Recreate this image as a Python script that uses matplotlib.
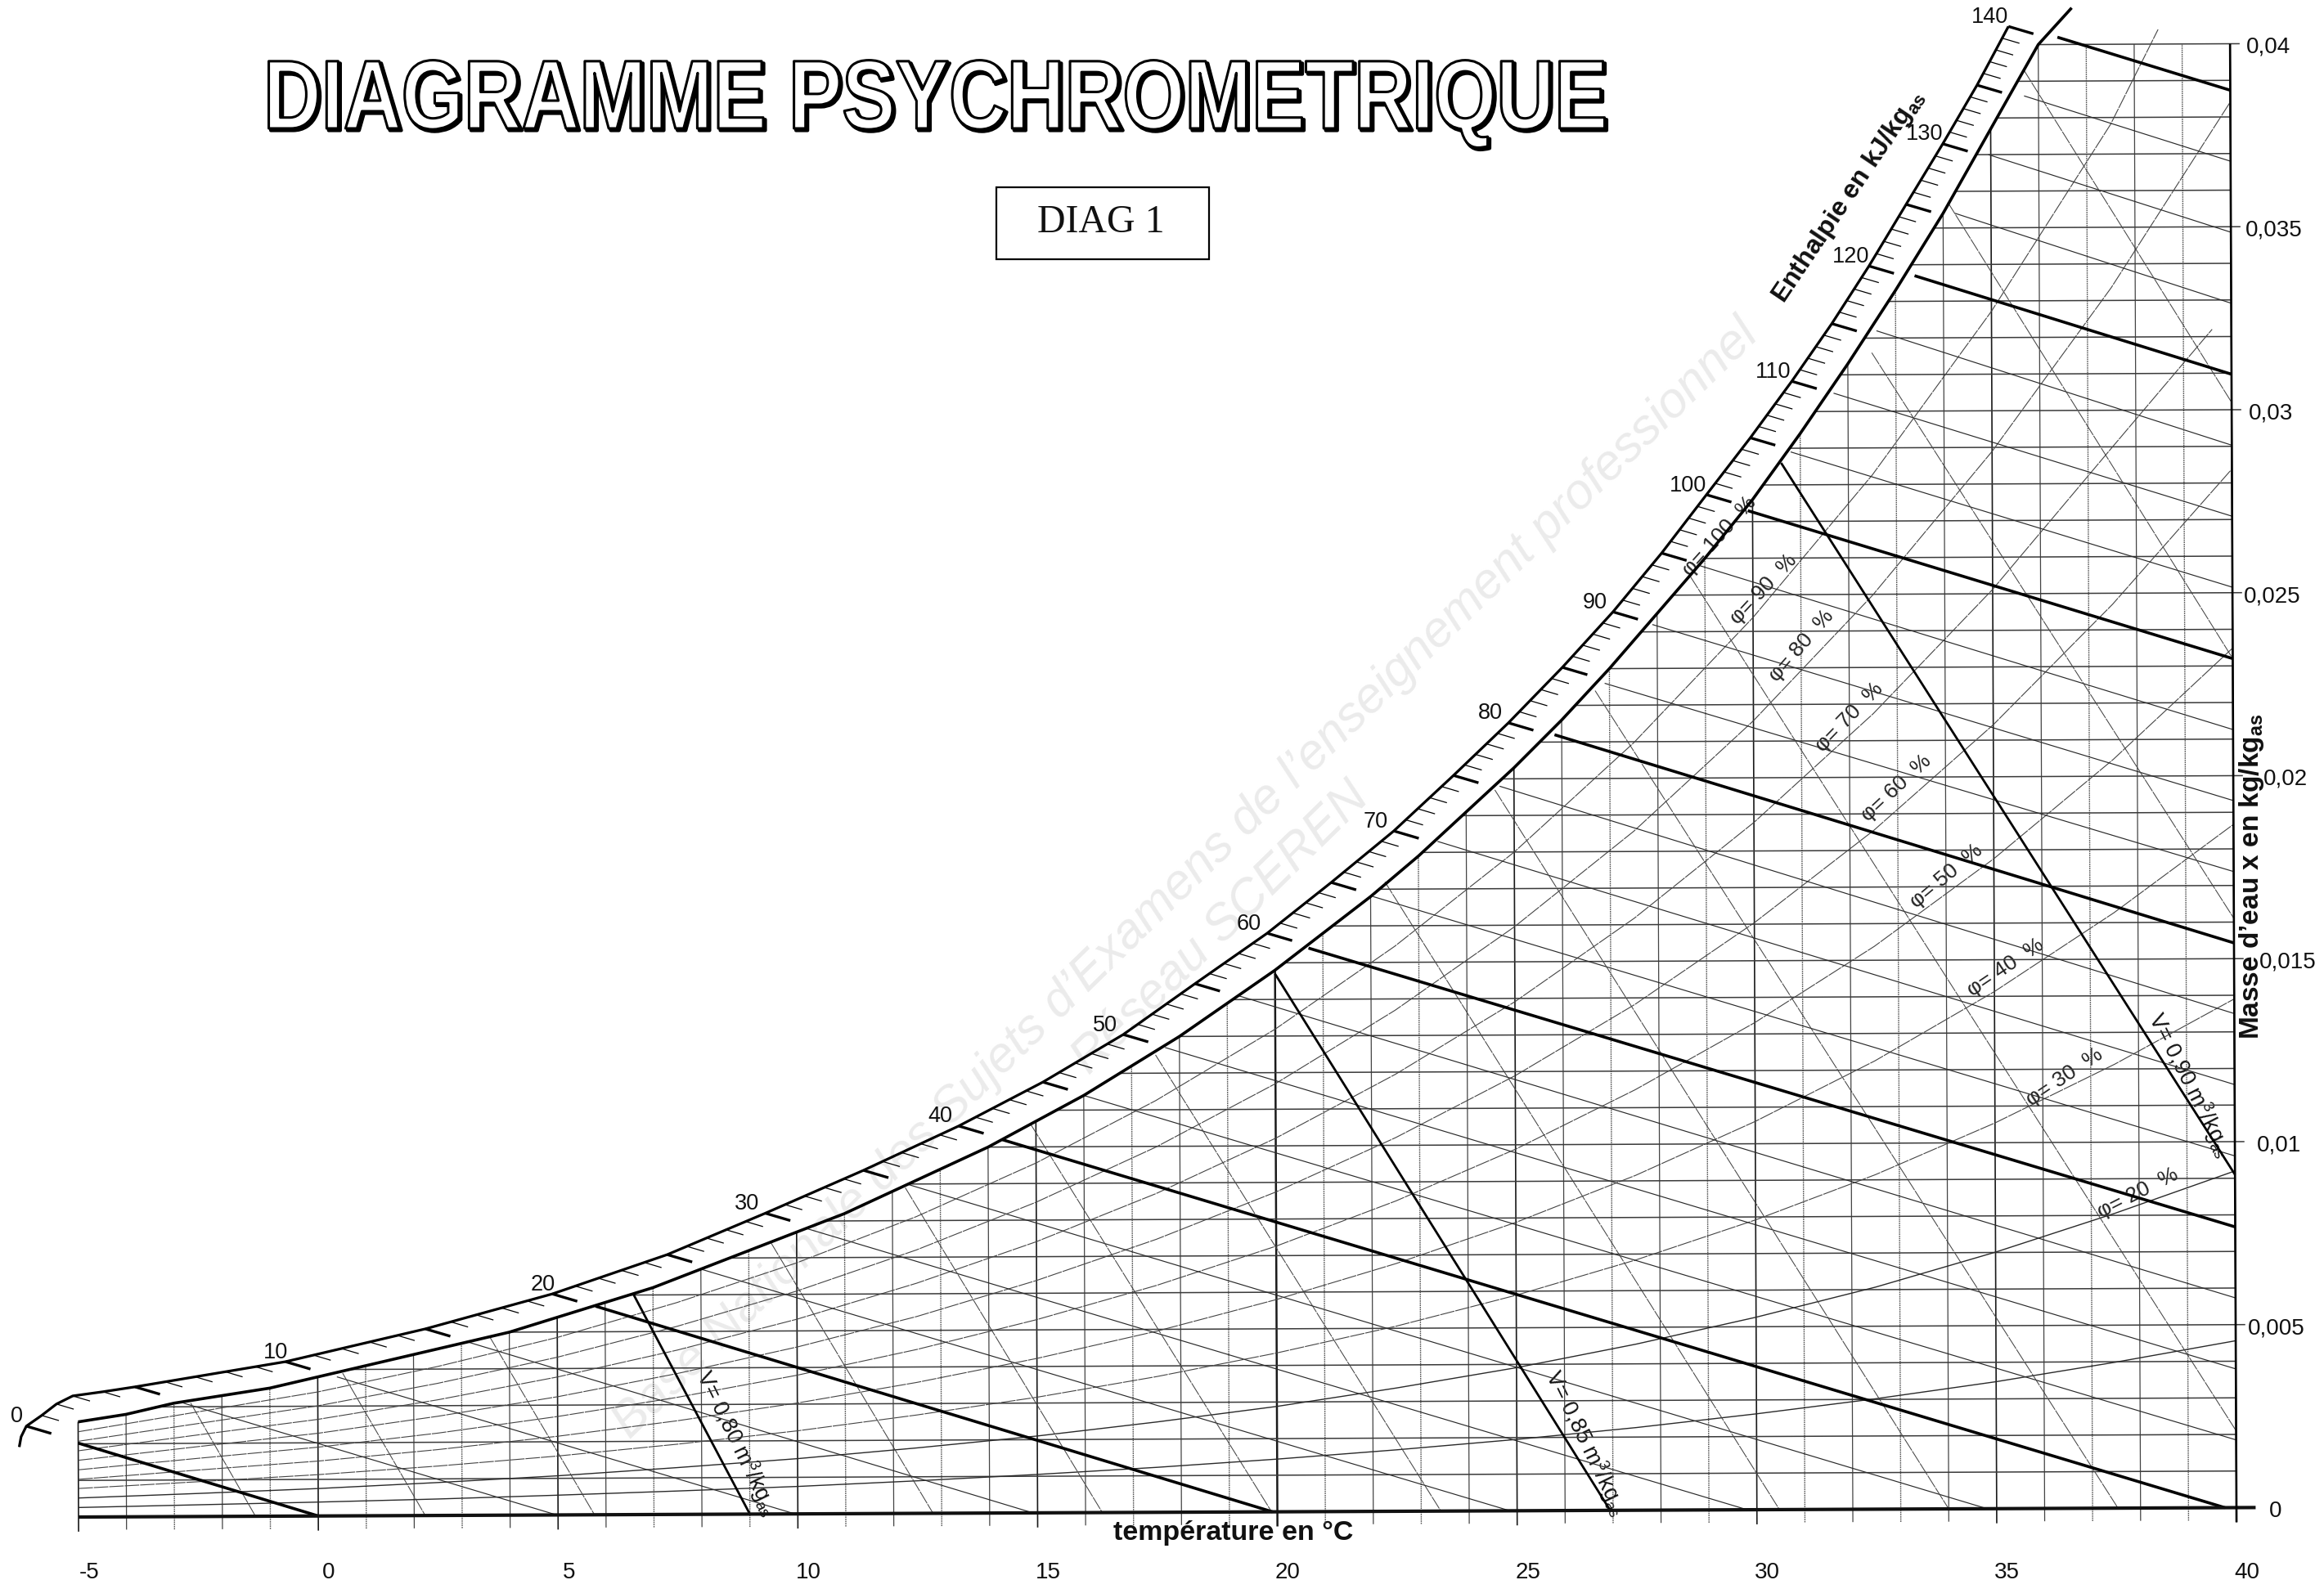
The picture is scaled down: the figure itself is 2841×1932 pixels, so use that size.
import numpy as np
import matplotlib
matplotlib.use("Agg")
import matplotlib.pyplot as plt
import matplotlib.patheffects as pe
from matplotlib.colors import to_rgba
from matplotlib.transforms import Affine2D
from matplotlib.patches import Rectangle

plt.rcParams['font.family'] = ['Liberation Sans', 'DejaVu Sans']
plt.rcParams['mathtext.fontset'] = 'custom'
plt.rcParams['mathtext.rm'] = 'Liberation Sans'
plt.rcParams['mathtext.it'] = 'Liberation Sans:italic'
plt.rcParams['mathtext.bf'] = 'Liberation Sans:bold'
plt.rcParams['mathtext.default'] = 'regular'

# saturation curve, temperature in C, x in kg/kg
sat_temp = [-5, -4, -3, -2, -1, 0, 1, 2, 3, 4, 5, 6, 7, 8, 9, 10, 11, 12, 13, 14, 15, 16, 17, 18, 19, 20,
            21, 22, 23, 24, 25, 26, 27, 28, 29, 30, 31, 32, 33, 34, 35, 36, 36.7]
sat_x = [.0026, .0028, .0031, .0033, .0035, .0038, .0041, .0044, .0047, .0050, .0054, .0058, .0062, .0067,
         .0072, .0077, .0082, .0088, .0094, .0100, .0107, .0114, .0122, .0130, .0139, .0148, .0158, .0168,
         .0179, .0191, .0203, .0216, .0230, .0245, .0260, .0276, .0294, .0313, .0333, .0354, .0377, .0400, .0410]

# relative humidity curves, x in g/kg
rh_temp = [-5, -2.5, 0, 2.5, 5, 7.5, 10, 12.5, 15, 17.5, 20, 22.5, 25, 27.5, 30, 32.5, 35, 37.5, 40]
rh_10 = [.26, .32, .38, .45, .54, .64, .75, .89, 1.05, 1.23, 1.44, 1.68, 1.95, 2.26, 2.62, 3.02, 3.47, 3.99, 4.56]
rh_20 = [.52, .63, .75, .90, 1.07, 1.28, 1.51, 1.79, 2.10, 2.47, 2.88, 3.37, 3.91, 4.54, 5.26, 6.07, 7.01, 8.06, 9.20]
rh_30 = [.78, .95, 1.13, 1.35, 1.61, 1.92, 2.27, 2.69, 3.16, 3.71, 4.34, 5.06, 5.89, 6.84, 7.92, 9.14, 10.54, 12.13, 13.90]
rh_40 = [1.03, 1.27, 1.50, 1.80, 2.15, 2.56, 3.03, 3.58, 4.22, 4.95, 5.80, 6.77, 7.88, 9.15, 10.61, 12.25, 14.13, 16.27, 18.67]
rh_50 = [1.29, 1.59, 1.88, 2.25, 2.69, 3.20, 3.79, 4.48, 5.28, 6.20, 7.26, 8.48, 9.88, 11.49, 13.31, 15.38, 17.76, 20.46, 23.49]
rh_60 = [1.55, 1.91, 2.26, 2.71, 3.23, 3.85, 4.56, 5.38, 6.35, 7.46, 8.74, 10.21, 11.89, 13.82, 16.04, 18.55, 21.42, 24.70, 28.38]
rh_70 = [1.81, 2.23, 2.64, 3.16, 3.77, 4.49, 5.32, 6.29, 7.41, 8.71, 10.21, 11.94, 13.91, 16.18, 18.78, 21.74, 25.12, 28.98]
rh_80 = [2.07, 2.54, 3.01, 3.61, 4.31, 5.14, 6.09, 7.20, 8.49, 9.98, 11.70, 13.69, 15.96, 18.56, 21.56, 24.98, 28.89, 33.35, 38.41]
rh_90 = [2.33, 2.86, 3.39, 4.07, 4.85, 5.79, 6.86, 8.11, 9.56, 11.25, 13.19, 15.44, 18.00, 20.97, 24.38, 28.26, 32.72, 37.81]
rh_curves = [rh_10, rh_20, rh_30, rh_40, rh_50, rh_60, rh_70, rh_80, rh_90]
# the two curves that stop before the next node
rh_tail = {6: (39.6, 32.2), 8: (38.5, 40.4)}

# enthalpy lines: start on the saturation curve, end on the bottom or the right side
h_vals = list(range(0, 145, 5))
h_start_t = [-5, -2.8, .4, 3.1, 5.8, 8, 10.2, 12.3, 14.3, 16, 17.7, 19.25, 20.7, 22.05, 23.4, 24.7, 25.85, 26.9, 27.9,
             28.9, 29.9, 30.8, 31.7, 32.6, 33.4, 34.25, 34.95, 35.7, 36.4]
h_start_x = [.00202, .0031, .0038, .00475, .0057, .0067, .0078, .0090, .0102, .0114, .0127, .0141, .0154, .0168, .0183,
             .0198, .0212, .0226, .0242, .0258, .0273, .0289, .0305, .0322, .0337, .0354, .0370, .0386, .0402]
h_end_t = [0, 4.97, 9.94, 14.9, 19.9, 24.85, 29.8, 34.8, 39.76, 40, 40, 40, 40, 40, 40, 40, 40, 40, 40,
           40, 40, 40, 40, 40, 40, 40, 40, 40, 40]
h_end_x = [0, 0, 0, 0, 0, 0, 0, 0, 0, .00185, .00379, .00573, .00767, .00961, .01156, .0135, .01543, .01738, .01932,
           .02126, .0232, .02515, .02709, .02903, .03097, .03291, .03485, .03679, .03873]

# outer edge of the enthalpy scale
scale_h = [-1, -.5, 0, 1, 2, 3, 4, 5, 10, 15, 20, 25, 30, 35, 40, 45, 50, 55, 60, 65, 70, 75, 80, 85, 90, 95, 100,
           105, 110, 115, 120, 125, 130, 135, 140]
scale_t = [-6.23, -6.19, -6.08, -5.76, -5.45, -5.11, -4.48, -3.81, -.67, 2.25, 4.9, 7.3, 9.35, 11.4, 13.39, 15.15, 16.83, 18.33,
           19.84, 21.18, 22.49, 23.74, 24.89, 26.02, 27.08, 28.10, 29.04, 29.96, 30.83, 31.67, 32.45, 33.23, 34.0, 34.72, 35.38]
scale_x = [.00192, .00220, .00249, .00278, .00309, .00331, .00342, .00355, .00422, .0051, .00604, .0071, .00822, .00938, .01058,
           .01177, .01306, .01444, .01581, .01719, .01859, .02010, .02153, .02304, .02455, .02615, .02774, .02929, .03083,
           .0324, .03397, .03565, .0373, .0389, .0405]

# specific volume lines
v_vals = [.77, .78, .79, .80, .81, .82, .83, .84, .85, .86, .87, .88, .89, .90, .91, .92, .93]
v_start_t = [-2.65, .52, 3.58, 6.6, 9.47, 12.27, 14.9, 17.5, 20.0, 22.3, 24.6, 26.7, 28.7, 30.6, 32.5, 34.1, 35.7]
v_start_x = [.0031, .0039, .0049, .0060, .0074, .0089, .0106, .0125, .0147, .0172, .0197, .0224, .0255, .0286, .0316, .0357, .0393]
v_end_t = [-1.31, 2.23, 5.76, 9.0, 12.82, 16.35, 19.88, 23.41, 26.94, 30.47, 34.0, 37.53, 40, 40, 40, 40, 40]
v_end_x = [0, 0, 0, 0, 0, 0, 0, 0, 0, 0, 0, 0, .0021, .0091, .0161, .0232, .0302]

temp_ticks = [-5, 0, 5, 10, 15, 20, 25, 30, 35, 40]
x_ticks = [0, .005, .01, .015, .02, .025, .03, .035, .04]
x_tick_labels = ['0', '0,005', '0,01', '0,015', '0,02', '0,025', '0,03', '0,035', '0,04']
x_label_left = [2774, 2748, 2759, 2762, 2767, 2743, 2749, 2745, 2746]
rh_labels = ['20', '30', '40', '50', '60', '70', '80', '90', '100']
rh_label_px = [2613, 2524, 2452, 2379, 2318, 2261, 2202, 2156, 2102]
rh_label_py = [1459, 1317, 1183, 1071, 964, 877, 790, 721, 656]
rh_label_rot = [27, 34, 34, 40, 43, 46, 49, 47, 48]

W, H = 2841, 1933
fig = plt.figure(figsize=(W / 100, H / 100), dpi=100, facecolor='white')

# page axes in pixels of the sheet, for everything that is not a value
page = fig.add_axes([0, 0, 1, 1])
page.set_xlim(0, W)
page.set_ylim(H, 0)
page.axis('off')

ax = fig.add_axes([96 / W, 77 / H, 2638 / W, 1790 / H])
ax.set_xlim(-5, 40)
ax.set_ylim(0, .04)
ax.axis('off')
ax.patch.set_alpha(0)

# the scan is slightly turned
tr = ax.transData + Affine2D().rotate_deg_around(96, 77, 0.25)


def line(xs, ys, lw=1.0, color='#1a1a1a', ls='-', z=2):
    ax.plot(xs, ys, color=color, lw=lw, ls=ls, transform=tr, clip_on=False, zorder=z, solid_capstyle='butt')


class Squeeze(pe.AbstractPathEffect):
    def __init__(self, sx, offset=(0, 0), lw=3.0, fill='white'):
        self.sx = sx
        self.off = offset
        self.lw = lw
        self.fill = to_rgba(fill)

    def draw_path(self, renderer, gc, tpath, affine, rgbFace=None):
        gc0 = renderer.new_gc()
        gc0.copy_properties(gc)
        gc0.set_linewidth(self.lw)
        gc0.set_foreground('black')
        t = Affine2D().scale(self.sx, 1) + affine + Affine2D().translate(*self.off)
        renderer.draw_path(gc0, tpath, t, self.fill)
        gc0.restore()


# grid
for t in range(-5, 41):
    top = min(np.interp(t, sat_temp, sat_x), .04)
    if t % 5 == 0:
        line([t, t], [-.0004, top], lw=1.2 if t != 20 else 1.8, color='#1a1a1a')
    elif t % 2 == 0:
        line([t, t], [-.00035, top], lw=0.9, color='#444444')
    else:
        line([t, t], [-.00035, top], lw=1.0, color='#555555', ls=(0, (1.2, 0.7)))

for k in range(1, 41):
    v = k / 1000
    tl = np.interp(v, sat_x, sat_temp)
    end = 40.2 if k % 5 == 0 else 40
    line([tl, end], [v, v], lw=1.1, color='#3a3a3a')

# humidity curves
for i, vals in enumerate(rh_curves):
    ts = rh_temp[:len(vals)]
    xs = [a / 1000 for a in vals]
    if i in rh_tail:
        ts = ts + [rh_tail[i][0]]
        xs = xs + [rh_tail[i][1] / 1000]
    if i < 2:
        line(ts, xs, lw=1.0, color='#2a2a2a')
    else:
        line(ts, xs, lw=0.8, color='#444444', ls=(0, (16, 1)))

# enthalpy lines
for i, h in enumerate(h_vals):
    if h % 20 == 0:
        line([h_start_t[i], h_end_t[i]], [h_start_x[i], h_end_x[i]], lw=2.6, color='black', z=3)
    else:
        line([h_start_t[i], h_end_t[i]], [h_start_x[i], h_end_x[i]], lw=0.85, color='#2a2a2a')

# volume lines
for i, v in enumerate(v_vals):
    if round(v * 100) % 5 == 0:
        line([v_start_t[i], v_end_t[i]], [v_start_x[i], v_end_x[i]], lw=2.0, color='black', z=3)
    else:
        line([v_start_t[i], v_end_t[i]], [v_start_x[i], v_end_x[i]], lw=0.75, color='#444444', ls=(0, (16, 1)))

# outline
line(sat_temp, sat_x, lw=2.6, color='black', z=4)
line(scale_t, scale_x, lw=2.3, color='black', z=4)
line([-5, 40.4], [0, 0], lw=3.0, color='#111111', z=4)
line([40, 40], [-.0004, .04], lw=1.9, color='black', z=4)

# enthalpy scale ticks
for h in range(0, 141):
    tt = np.interp(h, scale_h, scale_t)
    xx = np.interp(h, scale_h, scale_x)
    dt = .52 if h % 5 == 0 else .36
    line([tt, tt + dt], [xx, xx - .000393 * dt], lw=2.4 if h % 5 == 0 else 0.9, color='black', z=4)
    if h % 10 == 0:
        back = .2 if h <= 20 else .38
        ax.text(tt - back, xx + .00028, str(h), transform=tr, ha='center', va='center', fontsize=19.5, color='#111111', clip_on=False)

# tick labels
for t in temp_ticks:
    page.text(96 + (t + 5) * 58.62 + 13, 1923, str(t), ha='center', va='center', fontsize=20, color='#111111')
for v, s, left in zip(x_ticks, x_tick_labels, x_label_left):
    page.text(left, 1850 - v * 44750 - 2, s, ha='left', va='center', fontsize=20, color='#111111')

page.text(1508, 1875, 'température en °C', ha='center', va='center', fontsize=24.5, fontweight='bold', color='#111111', zorder=6)
page.text(2260, 240, r'Enthalpie en kJ/kg$_{\mathbf{as}}$', ha='center', va='center', fontsize=23, fontweight='bold', rotation=56, color='#111111', zorder=6)
page.text(2753, 1072, r'Masse d’eau x en kg/kg$_{\mathbf{as}}$', ha='center', va='center', fontsize=24, fontweight='bold', rotation=90, color='#111111', zorder=6)

# volume labels
page.text(901, 1765, r'V= 0,80 m$^{3}$/kg$_{as}$', ha='center', va='center', rotation=-64, fontsize=19.5, color='#111111', zorder=6)
page.text(1939, 1765, r'V= 0,85 m$^{3}$/kg$_{as}$', ha='center', va='center', rotation=-64, fontsize=19.5, color='#111111', zorder=6)
page.text(2677, 1327, r'V= 0,90 m$^{3}$/kg$_{as}$', ha='center', va='center', rotation=-63, fontsize=19.5, color='#111111', zorder=6)

# humidity labels
for s, px, py, rot in zip(rh_labels, rh_label_px, rh_label_py, rh_label_rot):
    page.text(px, py, 'φ= ' + s + '  %', ha='center', va='center', rotation=rot, fontsize=19, color='#222222', zorder=6)

# title, drawn narrow like the original
title = page.text(322, 158, 'DIAGRAMME PSYCHROMETRIQUE', ha='left', va='baseline', fontsize=86, fontweight='bold', color='white')
title.set_path_effects([Squeeze(.82, offset=(2.5, -2.5), lw=3.0, fill='black'), Squeeze(.82, lw=2.2, fill='white')])

page.add_patch(Rectangle((1218, 230), 260, 88, fill=False, edgecolor='black', lw=1.6))
page.text(1346, 272, 'DIAG 1', ha='center', va='center', fontsize=34.5, family='Liberation Serif', color='#111111')

# watermark of the scan
page.text(1450, 1075, 'Base Nationale des Sujets d’Examens de l’enseignement professionnel', ha='center', va='center',
          rotation=44.3, fontsize=44, style='italic', color='#ebebeb', zorder=0)
page.text(1493, 1136, 'Réseau SCEREN', ha='center', va='center', rotation=44.4, fontsize=44, style='italic', color='#ebebeb', zorder=0)

fig.savefig('out.png', dpi=100, facecolor='white')
